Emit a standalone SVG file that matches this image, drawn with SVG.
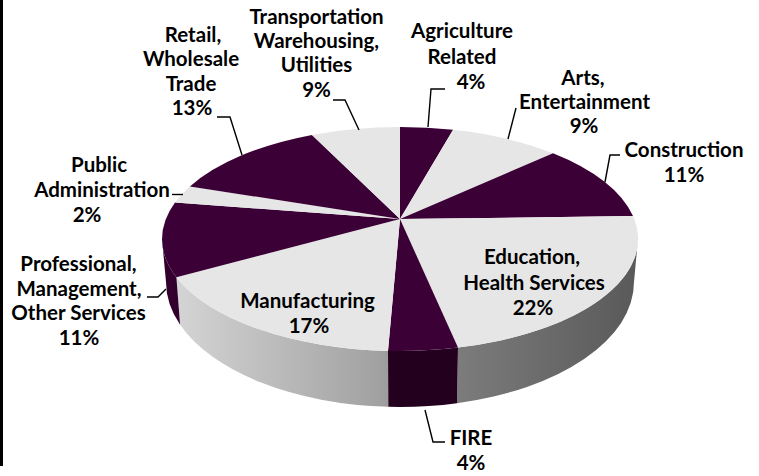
<svg xmlns="http://www.w3.org/2000/svg" width="759" height="476" viewBox="0 0 759 476">
<defs>
<style>
.lbl{font-family:"Lato","Open Sans","Liberation Sans",sans-serif;font-weight:700;font-size:20.5px;fill:#000;text-anchor:middle}
.pur{fill:#3b0035}
.lgt{fill:#e6e6e6}
.ldr{fill:none;stroke:#000;stroke-width:1.4}
</style>
<linearGradient id="sideG" gradientUnits="userSpaceOnUse" x1="162" y1="0" x2="638" y2="0">
<stop offset="0" stop-color="#d8d8d8"/>
<stop offset="0.45" stop-color="#a2a2a2"/>
<stop offset="0.62" stop-color="#7c7c7c"/>
<stop offset="1" stop-color="#595959"/>
</linearGradient>
</defs>
<rect x="0" y="0" width="759" height="476" fill="#fff"/>
<rect x="0" y="0" width="3" height="466" fill="#000"/>
<g id="sides">
<path fill="url(#sideG)" d="M638,239 A238,112 0 0 1 458,347.6 L457,403.2 A234,125 0 0 0 634,282 Z"/>
<path fill="#24001f" d="M458,347.6 A238,112 0 0 1 388,350.9 L388.2,406.8 A234,125 0 0 0 457,403.2 Z"/>
<path fill="url(#sideG)" d="M388,350.9 A238,112 0 0 1 176.4,277.3 L180.1,324.8 A234,125 0 0 0 388.2,406.8 Z"/>
<path fill="#33002e" d="M176.4,277.3 A238,112 0 0 1 162,239 L166,282 A234,125 0 0 0 180.1,324.8 Z"/>
</g>
<g id="agriculture"><path class="pur" d="M400,219 L400,127 A238,112 0 0 1 453.1,129.8 Z"/><text class="lbl" x="462" y="38">Agriculture</text><text class="lbl" x="462" y="63.5">Related</text><text class="lbl" x="471" y="89">4%</text></g>
<g id="arts"><path class="lgt" d="M400,219 L453.1,129.8 A238,112 0 0 1 553,153.2 Z"/><text class="lbl" x="583" y="85">Arts,</text><text class="lbl" x="584.5" y="108.5">Entertainment</text><text class="lbl" x="584" y="133">9%</text></g>
<g id="construction"><path class="pur" d="M400,219 L553,153.2 A238,112 0 0 1 633,216.1 Z"/><text class="lbl" x="684" y="157">Construction</text><text class="lbl" x="684" y="182">11%</text></g>
<g id="education"><path class="lgt" d="M400,219 L633,216.1 A238,112 0 0 1 458,347.6 Z"/><text class="lbl" x="532" y="263.5">Education,</text><text class="lbl" x="534" y="289.5">Health Services</text><text class="lbl" x="533" y="314.5">22%</text></g>
<g id="fire"><path class="pur" d="M400,219 L458,347.6 A238,112 0 0 1 388,350.9 Z"/><text class="lbl" x="471" y="445">FIRE</text><text class="lbl" x="471" y="470">4%</text></g>
<g id="manufacturing"><path class="lgt" d="M400,219 L388,350.9 A238,112 0 0 1 176.4,277.3 Z"/><text class="lbl" x="307.5" y="308">Manufacturing</text><text class="lbl" x="309" y="333">17%</text></g>
<g id="professional"><path class="pur" d="M400,219 L176.4,277.3 A238,112 0 0 1 175,202.5 Z"/><text class="lbl" x="78.5" y="271">Professional,</text><text class="lbl" x="79" y="295.5">Management,</text><text class="lbl" x="78.5" y="320">Other Services</text><text class="lbl" x="79" y="345">11%</text></g>
<g id="public-administration"><path class="lgt" d="M400,219 L175,202.5 A238,112 0 0 1 189.9,186.4 Z"/><text class="lbl" x="99" y="172">Public</text><text class="lbl" x="102" y="197">Administration</text><text class="lbl" x="87" y="222">2%</text></g>
<g id="retail"><path class="pur" d="M400,219 L189.9,186.4 A238,112 0 0 1 312,134.9 Z"/><text class="lbl" x="193" y="41.5">Retail,</text><text class="lbl" x="191" y="66">Wholesale</text><text class="lbl" x="191" y="90.5">Trade</text><text class="lbl" x="192" y="115">13%</text></g>
<g id="transportation"><path class="lgt" d="M400,219 L312,134.9 A238,112 0 0 1 400,127 Z"/><text class="lbl" x="316.5" y="23.5">Transportation</text><text class="lbl" x="316.5" y="47.5">Warehousing,</text><text class="lbl" x="316.5" y="72">Utilities</text><text class="lbl" x="316.5" y="97">9%</text></g>
<g id="connectors">
<polyline class="ldr" points="445,89 431,89 428,127"/>
<polyline class="ldr" points="516,108 508,139"/>
<polyline class="ldr" points="620,155 610,155 605,182"/>
<polyline class="ldr" points="425,410 433,442 445,442"/>
<polyline class="ldr" points="147,297 158,297 166,289"/>
<polyline class="ldr" points="172,194.5 183,194.5"/>
<polyline class="ldr" points="217,117 230,117 242,155"/>
<polyline class="ldr" points="333,100 345,100 359,130"/>
</g>
</svg>
